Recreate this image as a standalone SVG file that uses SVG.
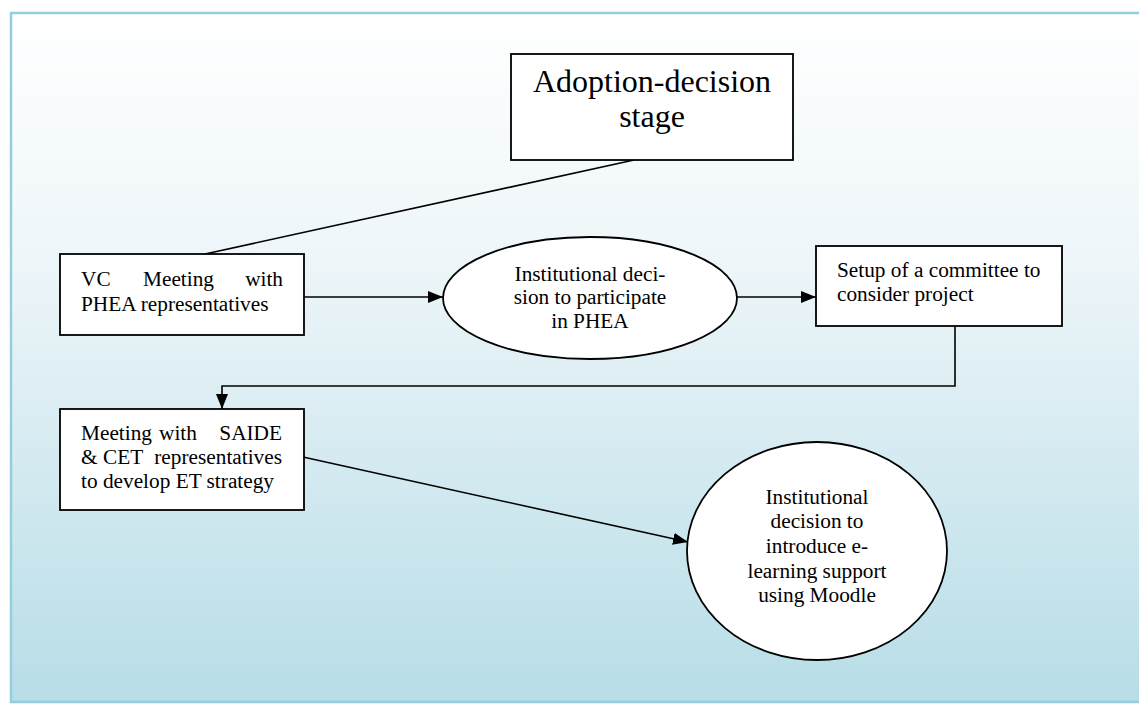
<svg xmlns="http://www.w3.org/2000/svg" width="1139" height="704" viewBox="0 0 1139 704">
<defs>
<linearGradient id="bg" x1="0" y1="0" x2="0" y2="1">
<stop offset="0" stop-color="#ffffff"/>
<stop offset="0.35" stop-color="#eef6f9"/>
<stop offset="1" stop-color="#b7dde7"/>
</linearGradient>
<marker id="arr" markerWidth="16" markerHeight="12" refX="15" refY="6" orient="auto" markerUnits="userSpaceOnUse">
<path d="M0,0 L15,6 L0,12 Z" fill="#000"/>
</marker>
</defs>
<style>
.node{fill:#fff;stroke:#000;stroke-width:1.8}
.t{font-family:"Liberation Serif","Times New Roman",serif;font-size:21.3px;fill:#000}
.c{text-anchor:middle}
.e{text-anchor:end}
.title{font-family:"Liberation Serif","Times New Roman",serif;font-size:32px;fill:#000;text-anchor:middle}
.conn{fill:none;stroke:#000;stroke-width:1.6}
</style>
<rect x="11" y="13" width="1140" height="689" fill="url(#bg)" stroke="#95cddd" stroke-width="2.5"/>

<g id="connectors">
<line class="conn" x1="634" y1="160" x2="205" y2="254"/>
<line class="conn" x1="304" y1="297" x2="443" y2="297" marker-end="url(#arr)"/>
<line class="conn" x1="737" y1="297" x2="816" y2="297" marker-end="url(#arr)"/>
<polyline class="conn" points="955,326 955,386 222,386 222,409" marker-end="url(#arr)"/>
<line class="conn" x1="303" y1="457" x2="688" y2="542" marker-end="url(#arr)"/>
</g>

<g id="node-adoption">
<rect class="node" x="511" y="54" width="282" height="106"/>
<text class="title" x="652" y="92">Adoption-decision</text>
<text class="title" x="652" y="127">stage</text>
</g>

<g id="node-vc">
<rect class="node" x="60" y="254" width="244" height="81"/>
<text class="t" y="286"><tspan x="81">VC</tspan><tspan x="143">Meeting</tspan><tspan x="283" class="e" text-anchor="end">with</tspan></text>
<text class="t" x="81" y="311">PHEA representatives</text>
</g>

<g id="node-inst1">
<ellipse class="node" cx="590" cy="298" rx="147" ry="61"/>
<text class="t c" x="590" y="281">Institutional deci-</text>
<text class="t c" x="590" y="304">sion to participate</text>
<text class="t c" x="590" y="328">in PHEA</text>
</g>

<g id="node-setup">
<rect class="node" x="816" y="246" width="246" height="80"/>
<text class="t" x="837" y="277">Setup of a committee to</text>
<text class="t" x="837" y="301">consider project</text>
</g>

<g id="node-meeting">
<rect class="node" x="60" y="409" width="244" height="101"/>
<text class="t" y="440"><tspan x="81">Meeting</tspan><tspan x="159">with</tspan><tspan x="282" text-anchor="end">SAIDE</tspan></text>
<text class="t" y="464"><tspan x="81">&amp;</tspan><tspan x="103">CET</tspan><tspan x="282" text-anchor="end">representatives</tspan></text>
<text class="t" x="81" y="488">to develop ET strategy</text>
</g>

<g id="node-inst2">
<ellipse class="node" cx="817" cy="551" rx="130" ry="109"/>
<text class="t c" x="817" y="504">Institutional</text>
<text class="t c" x="817" y="528">decision to</text>
<text class="t c" x="817" y="553">introduce e-</text>
<text class="t c" x="817" y="578">learning support</text>
<text class="t c" x="817" y="602">using Moodle</text>
</g>
</svg>
